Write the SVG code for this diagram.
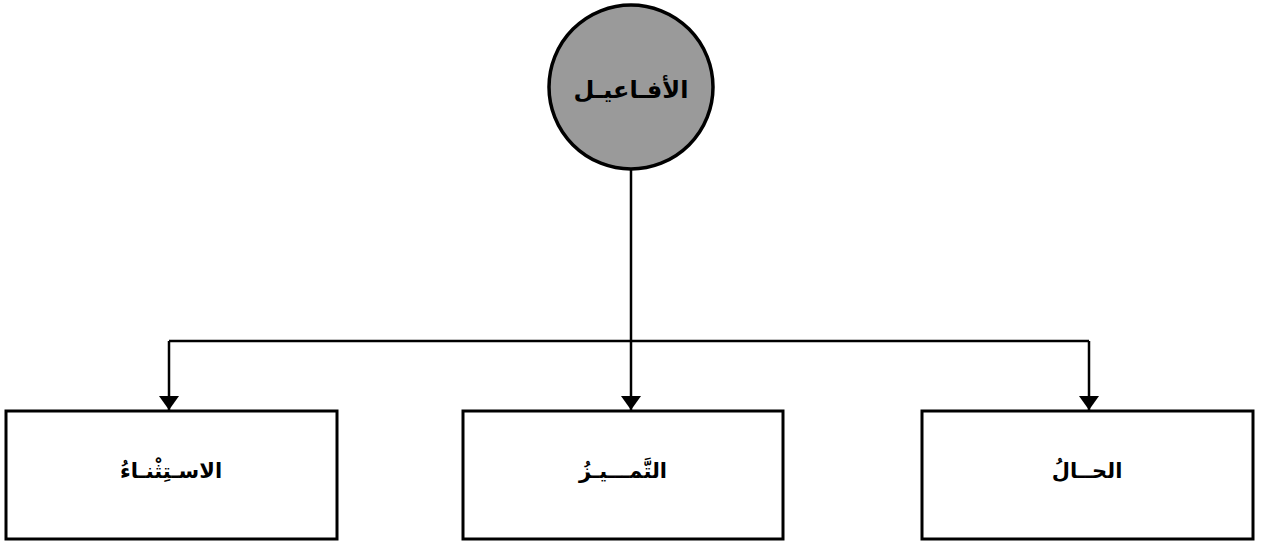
<svg xmlns="http://www.w3.org/2000/svg" width="1264" height="545" viewBox="0 0 1264 545">
<defs>
<style>
.box{fill:#fff;stroke:#000;stroke-width:3}
.hub{fill:#9a9a9a;stroke:#000;stroke-width:3.5}
.con{fill:none;stroke:#000;stroke-width:2.5}
.lbl{font-family:"DejaVu Sans",sans-serif;font-weight:bold;font-size:21px;fill:#000;text-anchor:middle;dominant-baseline:central}
.big{font-size:24px}
</style>
<marker id="arr" viewBox="0 0 14 20" refX="14" refY="10" markerWidth="14" markerHeight="20" markerUnits="userSpaceOnUse" orient="auto">
<path d="M0,0 L14,10 L0,20 Z" fill="#000"/>
</marker>
</defs>
<rect width="1264" height="545" fill="#fff"/>
<g id="connectors">
<path class="con" d="M631,170 V410" marker-end="url(#arr)"/>
<path class="con" d="M169,341 H1089"/>
<path class="con" d="M169,341 V410" marker-end="url(#arr)"/>
<path class="con" d="M1089,341 V410" marker-end="url(#arr)"/>
</g>
<g id="hub">
<circle class="hub" cx="631" cy="87" r="82"/>
<text class="lbl big" x="631" y="90" direction="rtl">الأفـاعيـل</text>
</g>
<g id="istithna">
<rect class="box" x="6" y="411" width="331" height="128"/>
<text class="lbl" x="171" y="471" direction="rtl">الاسـتِثْنـاءُ</text>
</g>
<g id="tamyiz">
<rect class="box" x="463" y="411" width="320" height="128"/>
<text class="lbl" x="623" y="471" direction="rtl">التَّمـــيـزُ</text>
</g>
<g id="hal">
<rect class="box" x="922" y="411" width="331" height="128"/>
<text class="lbl" x="1087" y="471" direction="rtl">الحــالُ</text>
</g>
</svg>
